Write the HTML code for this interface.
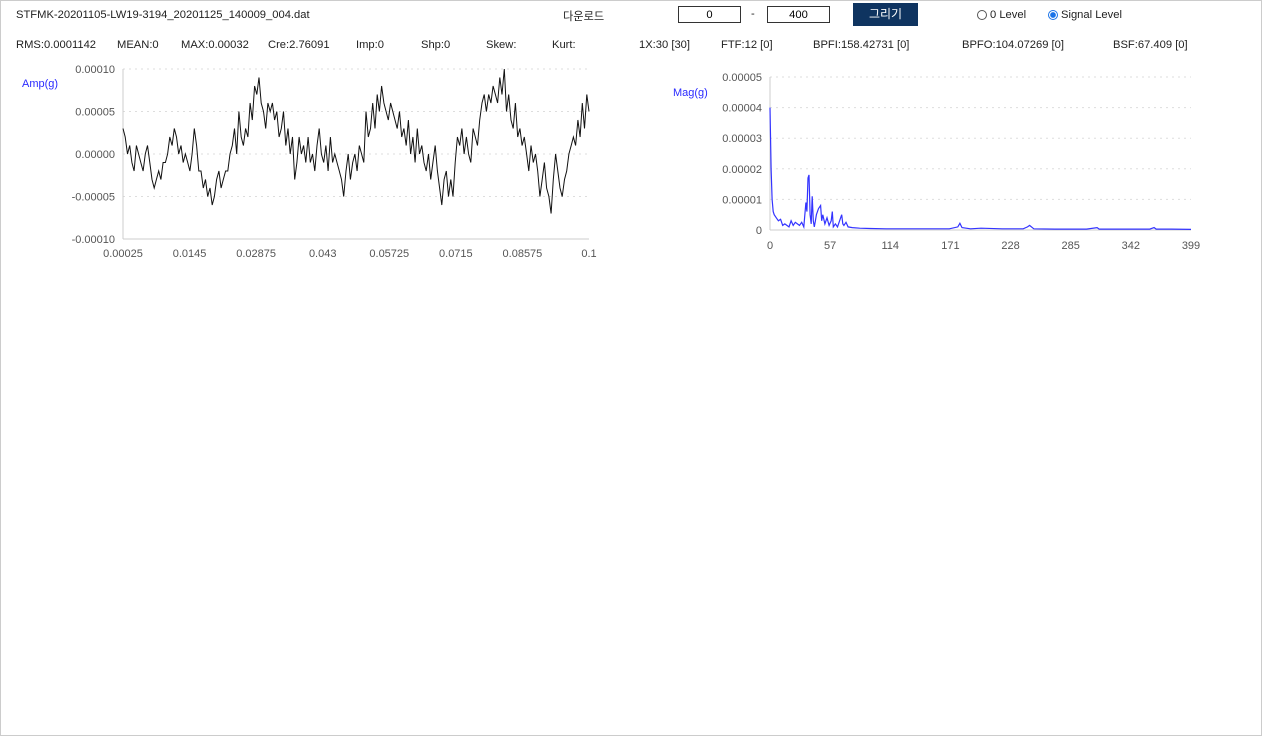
<!DOCTYPE html>
<html><head><meta charset="utf-8">
<style>
body{margin:0;width:1262px;height:736px;overflow:hidden;background:#fff;font-family:"Liberation Sans","Noto Sans CJK KR",sans-serif;}
#page{position:absolute;left:0;top:0;width:1260px;height:734px;border:1px solid #ccc;}
.t{position:absolute;font-size:11.2px;color:#222;white-space:nowrap;}
.inp{position:absolute;height:17px;border:1px solid #333;font-size:11.2px;text-align:center;line-height:17px;box-sizing:border-box;}
#draw{position:absolute;left:852px;top:2px;width:65px;height:23px;background:#0f3460;color:#fff;font-size:12px;text-align:center;line-height:23px;}
.radio{position:absolute;width:10px;height:10px;border-radius:50%;border:1px solid #555;box-sizing:border-box;}
svg{position:absolute;left:0;top:0;}
</style></head><body>
<div id="page">
<div class="t" style="left:15px;top:8px">STFMK-20201105-LW19-3194_20201125_140009_004.dat</div>
<div class="t" style="left:562px;top:7px">다운로드</div>
<div class="inp" style="left:677px;top:5px;width:63px">0</div>
<div class="t" style="left:750px;top:7px">-</div>
<div class="inp" style="left:766px;top:5px;width:63px">400</div>
<div id="draw">그리기</div>
<div class="radio" style="left:976px;top:9px"></div>
<div class="t" style="left:989px;top:8px">0 Level</div>
<div class="radio" style="left:1047px;top:9px;border-color:#1a73e8;background:radial-gradient(circle,#1a73e8 45%,#fff 55%)"></div>
<div class="t" style="left:1060px;top:8px">Signal Level</div>

<div class="t" style="left:15px;top:38px">RMS:0.0001142</div>
<div class="t" style="left:116px;top:38px">MEAN:0</div>
<div class="t" style="left:180px;top:38px">MAX:0.00032</div>
<div class="t" style="left:267px;top:38px">Cre:2.76091</div>
<div class="t" style="left:355px;top:38px">Imp:0</div>
<div class="t" style="left:420px;top:38px">Shp:0</div>
<div class="t" style="left:485px;top:38px">Skew:</div>
<div class="t" style="left:551px;top:38px">Kurt:</div>
<div class="t" style="left:638px;top:38px">1X:30 [30]</div>
<div class="t" style="left:720px;top:38px">FTF:12 [0]</div>
<div class="t" style="left:812px;top:38px">BPFI:158.42731 [0]</div>
<div class="t" style="left:961px;top:38px">BPFO:104.07269 [0]</div>
<div class="t" style="left:1112px;top:38px">BSF:67.409 [0]</div>

<svg id="chart" width="1262" height="736"></svg>
</div>
<script>
// time waveform values (x1e-5 g)
const waveValues=[3,2,0,1,-1,-2,1,0,-1,-2,0,1,-1,-3,-4,-3,-2,-3,-1,-1,0,2,1,3,2,0,1,-1,0,-1,-2,0,3,1,-2,-2,-4,-3,-5,-4,-6,-5,-3,-2,-4,-3,-2,-2,0,1,3,0,5,2,1,3,2,6,4,8,7,9,6,5,3,6,5,6,4,5,2,3,5,1,3,0,2,-3,-1,2,0,1,-1,2,-1,0,-2,1,3,0,-1,1,-2,2,-1,0,-1,-2,-3,-5,-2,0,-3,-1,0,-2,1,0,-1,5,2,3,6,3,7,5,8,6,5,4,6,5,4,3,5,2,3,1,4,0,2,-1,3,0,1,-1,-2,0,-3,-1,1,-2,-4,-6,-3,-2,-5,-3,-5,-1,2,1,3,0,2,0,-1,3,2,1,4,6,7,5,7,6,8,7,6,9,7,10,5,7,4,3,6,2,3,1,2,0,-2,1,-1,0,-2,-5,-3,-1,-4,-5,-7,-3,0,-2,-4,-5,-3,-2,0,1,2,1,4,2,6,3,7,5];
const timeTicks=["0.00025","0.0145","0.02875","0.043","0.05725","0.0715","0.08575","0.1"];
const ampTicks=["0.00010","0.00005","0.00000","-0.00005","-0.00010"];
// spectrum (freq bins, magnitude x1e-5 g)
const specFreqs=[0,1,2,3,4,6,8,10,12,14,16,18,20,22,24,26,28,30,32,34,35,36,37,38,39,40,41,42,43,44,46,48,49,50,52,54,56,58,59,60,62,64,66,68,69,70,72,74,78,85,95,110,130,150,170,178,180,182,190,200,220,240,244,246,250,270,300,310,312,320,340,360,364,366,380,399];
const specMags=[4.0,2.0,1.0,0.6,0.5,0.4,0.3,0.35,0.15,0.2,0.15,0.1,0.3,0.15,0.25,0.2,0.15,0.25,0.1,0.9,0.6,1.7,1.8,0.5,0.2,1.1,0.3,0.1,0.3,0.5,0.7,0.8,0.3,0.5,0.2,0.4,0.15,0.3,0.6,0.1,0.2,0.1,0.3,0.5,0.2,0.15,0.25,0.1,0.08,0.06,0.05,0.04,0.04,0.04,0.04,0.1,0.22,0.08,0.04,0.06,0.04,0.04,0.1,0.15,0.04,0.03,0.03,0.08,0.03,0.03,0.03,0.03,0.08,0.03,0.03,0.02];
const freqTicks=["0","57","114","171","228","285","342","399"];
const magTicks=["0.00005","0.00004","0.00003","0.00002","0.00001","0"];

const NS="http://www.w3.org/2000/svg", svg=document.getElementById('chart');
function mk(tag,attrs,parent){const e=document.createElementNS(NS,tag);for(const k in attrs)e.setAttribute(k,attrs[k]);(parent||svg).appendChild(e);return e;}
function txt(x,y,s,anchor,color){const e=mk('text',{x:x,y:y,'font-size':'11','fill':color||'#555','text-anchor':anchor,'font-family':'Liberation Sans, sans-serif'});e.textContent=s;return e;}

// left chart
const L={x0:122,x1:588,y0:238,y1:68};
const lx=i=>L.x0+(L.x1-L.x0)*i/(waveValues.length-1);
const ly=v=>L.y0-(v+10)/20*(L.y0-L.y1);
const g1=mk('g',{});


ampTicks.forEach((t,i)=>{const v=10-5*i;const y=ly(v);
 if(i<4){const gl=mk('line',{x1:L.x0,x2:L.x1,y1:y,y2:y,stroke:'#ddd','stroke-dasharray':'2,4'},g1);}
 const tl=txt(L.x0-8,y+4,t,'end');});
mk('line',{x1:L.x0,x2:L.x0,y1:L.y1,y2:L.y0,stroke:'#ccc'},g1);
mk('line',{x1:L.x0,x2:L.x1,y1:L.y0,y2:L.y0,stroke:'#ccc'},g1);
timeTicks.forEach((t,i)=>{const x=L.x0+(L.x1-L.x0)*i/(timeTicks.length-1);const tl=txt(x,256,t,'middle');});
const ya=txt(21,86,'Amp(g)','start','#2a2aff');
const wp=mk('path',{d:waveValues.map((v,i)=>(i?'L':'M')+lx(i).toFixed(1)+','+ly(v).toFixed(1)).join(''),fill:'none',stroke:'#111','stroke-width':1},g1);



// right chart
const R={x0:769,x1:1190,y0:229,y1:76};
const rx=f=>R.x0+(R.x1-R.x0)*f/399;
const ry=v=>R.y0-v/5*(R.y0-R.y1);
magTicks.forEach((t,i)=>{const v=5-i;const y=ry(v);
 if(i<5){const gl=mk('line',{x1:R.x0,x2:R.x1,y1:y,y2:y,stroke:'#ddd','stroke-dasharray':'2,4'});}
 const tl=txt(R.x0-8,y+4,t,'end');});
mk('line',{x1:R.x0,x2:R.x0,y1:R.y1,y2:R.y0,stroke:'#ccc'});
mk('line',{x1:R.x0,x2:R.x1,y1:R.y0,y2:R.y0,stroke:'#ccc'});
freqTicks.forEach(t=>{const tl=txt(rx(+t),248,t,'middle');});
const ma=txt(672,95,'Mag(g)','start','#2a2aff');
const sp=mk('path',{d:specFreqs.map((f,i)=>(i?'L':'M')+rx(f).toFixed(1)+','+ry(specMags[i]).toFixed(1)).join(''),fill:'none',stroke:'#3333ff','stroke-width':1.2});


</script>
</body></html>
